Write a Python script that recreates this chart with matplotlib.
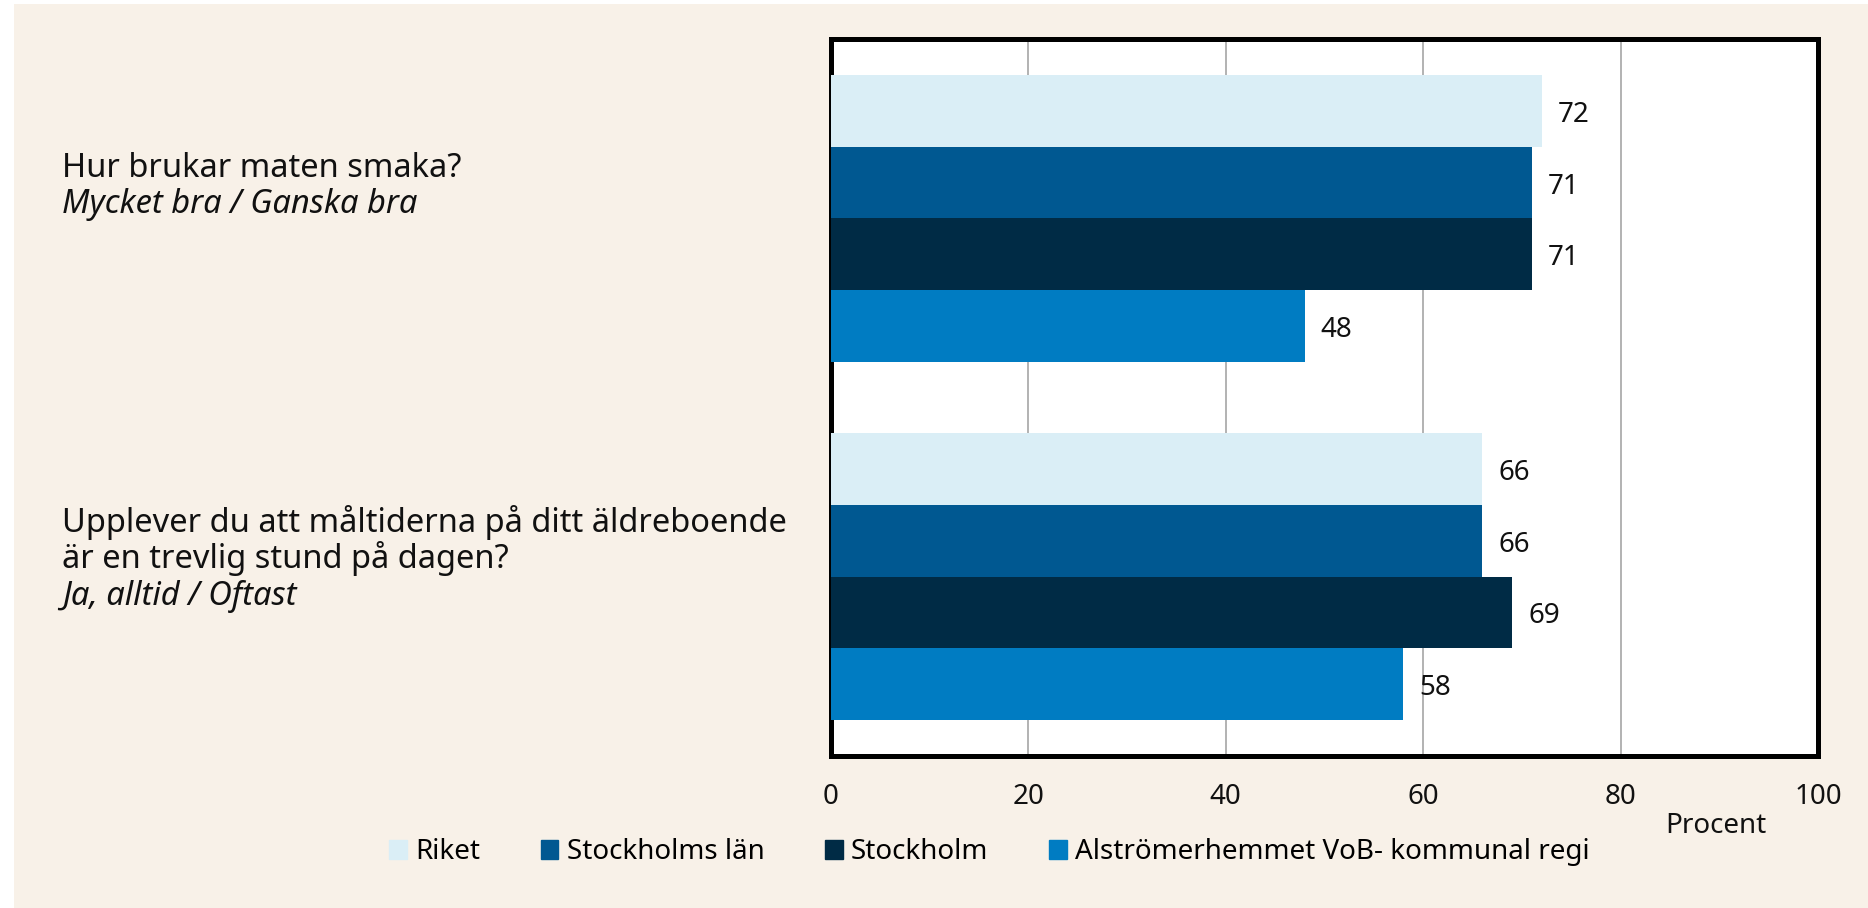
import matplotlib.pyplot as plt
import matplotlib.patches as mpatches
import numpy as np

plt.rcParams['font.family'] = ['Noto Sans', 'DejaVu Sans']

## Data
questions = [["Hur brukar maten smaka?"],
             ["Upplever du att måltiderna på ditt äldreboende", "är en trevlig stund på dagen?"]]
answers = ["Mycket bra / Ganska bra", "Ja, alltid / Oftast"]
series = ["Riket", "Stockholms län", "Stockholm", "Alströmerhemmet VoB- kommunal regi"]
values = {
    "Riket": [72, 66],
    "Stockholms län": [71, 66],
    "Stockholm": [71, 69],
    "Alströmerhemmet VoB- kommunal regi": [48, 58],
}
xticks = [0, 20, 40, 60, 80, 100]

colors = ['#DAEEF6', '#005891', '#002B45', '#007CC2']
bg = '#F8F1E8'

W, H = 1868, 908
fig = plt.figure(figsize=(W / 100, H / 100), dpi=100)
fig.patch.set_facecolor('white')
# beige panel behind everything
fig.add_artist(mpatches.Rectangle((14 / W, 0), 1 - 14 / W, 1 - 4 / H, transform=fig.transFigure,
                                  facecolor=bg, edgecolor='none', zorder=0))

ax = fig.add_axes([830.7 / W, (H - 755.5) / H, 987.5 / W, 716 / H])
ax.set_facecolor('white')

## Bars
y = np.arange(len(questions))
h = 0.2
for i, s in enumerate(series):
    pos = y - 0.3 + i * h
    ax.barh(pos, values[s], height=h, color=colors[i], zorder=3, label=s)
    for p, v in zip(pos, values[s]):
        ax.annotate(f"{v}", (v, p), xytext=(11.5, -3), textcoords='offset points',
                    va='center', ha='left', fontsize=20, color='#111111')

ax.set_xlim(0, 100)
ax.set_ylim(1.5, -0.5)
ax.set_xticks(xticks)
ax.set_yticks([])
ax.tick_params(axis='x', length=0, pad=20, labelsize=20, colors='#111111')
ax.grid(axis='x', color='#A6A6A6', linewidth=1.2, zorder=1)
ax.set_axisbelow(True)
for sp in ax.spines.values():
    sp.set_linewidth(3.6)
    sp.set_color('black')

## Category labels (baselines in pixels from top)
first_baseline = [176.7, 531.7]
line_step = 36.5
for i, lines in enumerate(questions):
    b = first_baseline[i]
    for ln in lines:
        fig.text(62 / W, 1 - b / H, ln, fontsize=23.5, va='baseline', ha='left', color='#111111')
        b += line_step
    fig.text(62 / W, 1 - b / H, answers[i], fontsize=23.5, style='italic',
             va='baseline', ha='left', color='#111111')

fig.text(1716 / W, 1 - 826 / H, "Procent", fontsize=20, ha='center', va='center', color='#111111')

## Legend
handles = [mpatches.Patch(color=colors[i], label=s) for i, s in enumerate(series)]
fig.legend(handles=handles, loc='center', bbox_to_anchor=(989.5 / W, 1 - 852 / H), ncol=4,
           frameon=False, fontsize=20, handlelength=0.62, handleheight=0.66,
           handletextpad=0.3, columnspacing=2.2, borderpad=0)

plt.savefig('out.png', dpi=100, facecolor=fig.get_facecolor())
